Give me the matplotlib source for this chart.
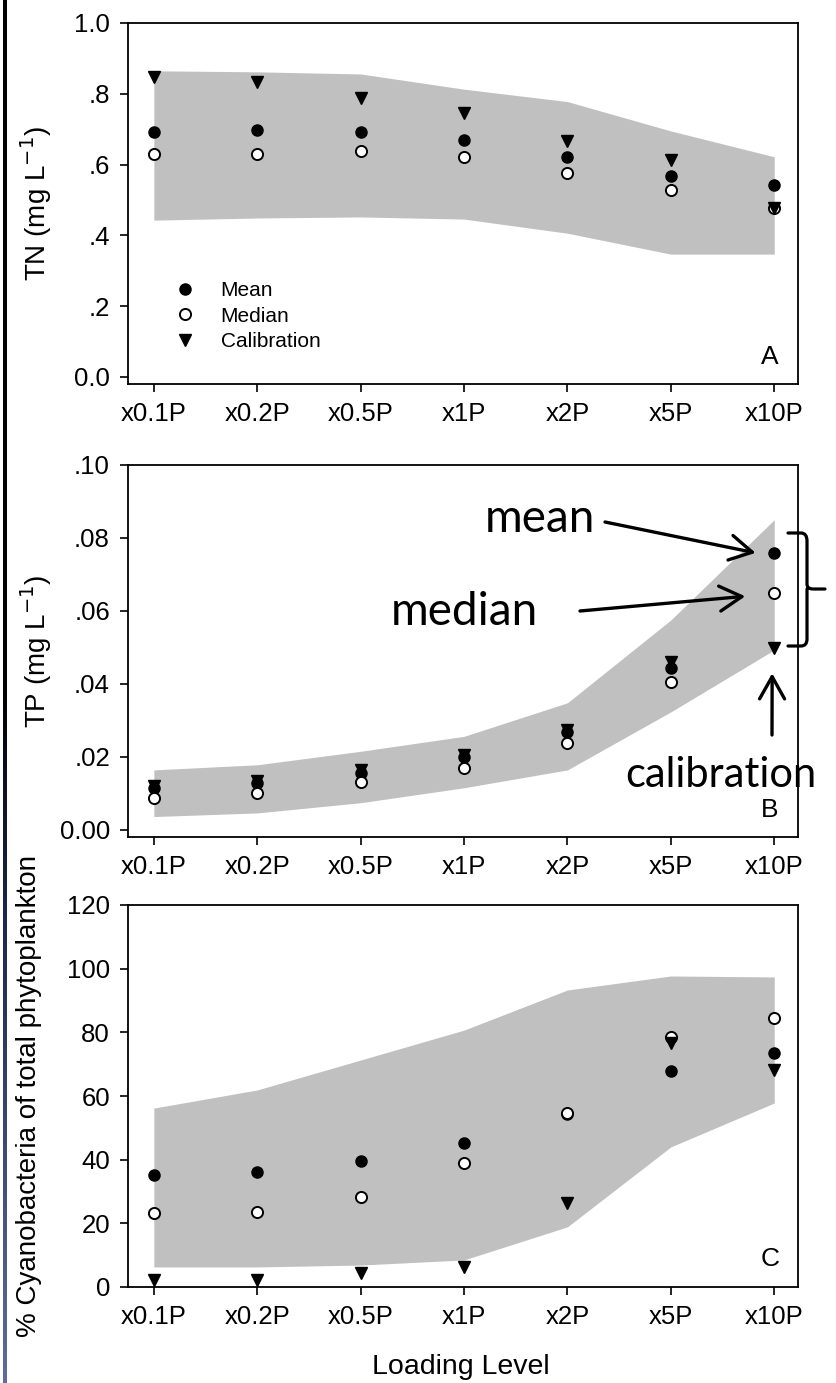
import matplotlib.pyplot as plt
import numpy as np
from matplotlib.path import Path
from matplotlib.patches import PathPatch
from matplotlib.colors import LinearSegmentedColormap

plt.rcParams["font.family"] = ["Liberation Sans", "DejaVu Sans"]

levels = ["x0.1P", "x0.2P", "x0.5P", "x1P", "x2P", "x5P", "x10P"]

# total nitrogen (mg/L)
tn_hi = [0.865, 0.862, 0.856, 0.813, 0.778, 0.695, 0.622]
tn_lo = [0.443, 0.449, 0.452, 0.446, 0.406, 0.347, 0.347]
tn_mean = [0.693, 0.698, 0.693, 0.670, 0.621, 0.568, 0.542]
tn_median = [0.630, 0.630, 0.639, 0.622, 0.576, 0.528, 0.477]
tn_calib = [0.848, 0.832, 0.788, 0.745, 0.668, 0.613, 0.478]

# total phosphorus (mg/L)
tp_hi = [0.0164, 0.0178, 0.0215, 0.0256, 0.0348, 0.0575, 0.0850]
tp_lo = [0.0036, 0.0046, 0.0074, 0.0115, 0.0164, 0.0323, 0.0493]
tp_mean = [0.0115, 0.0128, 0.0156, 0.0200, 0.0269, 0.0443, 0.0759]
tp_median = [0.0088, 0.0101, 0.0131, 0.0170, 0.0238, 0.0405, 0.0650]
tp_calib = [0.0120, 0.0134, 0.0164, 0.0205, 0.0274, 0.0460, 0.0499]

# cyanobacteria share of phytoplankton (%)
cy_hi = [56.2, 61.9, 71.3, 80.7, 93.3, 97.7, 97.4]
cy_lo = [6.3, 6.3, 6.9, 8.5, 18.9, 44.0, 57.8]
cy_mean = [35.2, 36.1, 39.6, 45.2, 54.5, 67.9, 73.5]
cy_median = [23.2, 23.7, 28.4, 38.9, 54.7, 78.6, 84.5]
cy_calib = [2.2, 2.2, 4.4, 6.3, 26.4, 76.6, 68.2]

W, H = 836, 1383
fig = plt.figure(figsize=(W / 100, H / 100), dpi=100)
fig.patch.set_facecolor("white")


def fx(x):
    return x / W


def fy(y):
    return 1 - y / H


def px_axes(left, top, right, bottom):
    return fig.add_axes([fx(left), fy(bottom), (right - left) / W, (bottom - top) / H])


x = np.arange(len(levels))


def draw_panel(ax, lo, hi, mean, median, calib, ylim, yticks, yticklabels,
               ylabel, letter, label_x):
    ax.fill_between(x, lo, hi, color="#c0c0c0", linewidth=0, zorder=1)
    ax.plot(x, mean, "o", color="black", ms=8, zorder=3, label="Mean")
    ax.plot(x, median, "o", mfc="white", mec="black", mew=1.4, ms=8,
            zorder=4, label="Median")
    ax.plot(x, calib, "v", color="black", ms=9, zorder=5, label="Calibration")

    ax.set_xlim(-0.25, 6.23)
    ax.set_ylim(*ylim)
    ax.set_xticks(x)
    ax.set_xticklabels(levels)
    ax.set_yticks(yticks)
    ax.set_yticklabels(yticklabels)
    ax.tick_params(direction="out", length=6, width=1.2, labelsize=18.5, pad=7)
    for s in ax.spines.values():
        s.set_linewidth(1.3)
        s.set_color("black")

    ax.set_ylabel(ylabel, fontsize=20, va="center")
    ax.yaxis.set_label_coords(label_x, 0.5)
    ax.text(0.958, 0.055, letter, transform=ax.transAxes, ha="center",
            va="baseline", fontsize=19)


ax_a = px_axes(128, 23, 798, 384)
draw_panel(ax_a, tn_lo, tn_hi, tn_mean, tn_median, tn_calib, (-0.02, 1.0),
           [0, 0.2, 0.4, 0.6, 0.8, 1.0], ["0.0", ".2", ".4", ".6", ".8", "1.0"],
           "TN (mg L$^{-1}$)", "A", -0.137)
ax_a.legend(loc="upper left", bbox_to_anchor=(0.07, 0.285), frameon=False,
            fontsize=15, handletextpad=1.2, labelspacing=0.32,
            borderaxespad=0, borderpad=0, handlelength=1.0)

ax_b = px_axes(128, 465, 798, 837)
draw_panel(ax_b, tp_lo, tp_hi, tp_mean, tp_median, tp_calib, (-0.002, 0.1),
           [0, 0.02, 0.04, 0.06, 0.08, 0.10],
           ["0.00", ".02", ".04", ".06", ".08", ".10"],
           "TP (mg L$^{-1}$)", "B", -0.137)

ax_c = px_axes(128, 905, 798, 1287)
draw_panel(ax_c, cy_lo, cy_hi, cy_mean, cy_median, cy_calib, (0, 120),
           np.arange(0, 121, 20), [str(v) for v in range(0, 121, 20)],
           "% Cyanobacteria of total phytoplankton", "C", -0.148)

fig.text(fx(461), fy(1367), "Loading Level", ha="center", va="center",
         fontsize=20.5)

# callouts for the x10P phosphorus points
note_font = dict(family=["Lato", "DejaVu Sans"], color="black")
fig.text(fx(485), fy(532), "mean", va="baseline", ha="left", fontsize=33,
         **note_font)
fig.text(fx(391), fy(625), "median", va="baseline", ha="left", fontsize=33,
         **note_font)
fig.text(fx(625), fy(787), "calibration", va="baseline", ha="left",
         fontsize=30, zorder=10, **note_font)

arrow = dict(arrowstyle="->,head_length=0.8,head_width=0.45", lw=2.4,
             color="black", shrinkA=0, shrinkB=0, mutation_scale=20)
ax_b.annotate("", xy=(6 - 0.18, tp_mean[6]), xytext=(fx(605), fy(522)),
              textcoords="figure fraction", arrowprops=arrow,
              annotation_clip=False)
ax_b.annotate("", xy=(6 - 0.28, tp_median[6] - 0.001),
              xytext=(fx(580), fy(611)), textcoords="figure fraction",
              arrowprops=arrow, annotation_clip=False)
ax_b.annotate("", xy=(6 - 0.02, tp_calib[6] - 0.007),
              xytext=(fx(772), fy(735)), textcoords="figure fraction",
              arrowprops=arrow, annotation_clip=False)

# brace grouping the three x10P estimates
brace_px = [(788, 533), (801, 533), (807, 533), (807, 541), (807, 584),
            (807, 589), (813, 589), (825, 589), (807, 589), (807, 594),
            (807, 639), (807, 646), (801, 646), (788, 646)]
codes = [Path.MOVETO, Path.LINETO, Path.CURVE3, Path.CURVE3, Path.LINETO,
         Path.CURVE3, Path.CURVE3, Path.LINETO, Path.MOVETO, Path.LINETO,
         Path.LINETO, Path.CURVE3, Path.CURVE3, Path.LINETO]
brace = Path([(fx(a), fy(b)) for a, b in brace_px], codes)
fig.add_artist(PathPatch(brace, transform=fig.transFigure, fill=False,
                         lw=2.3, edgecolor="black", capstyle="round"))

# dark edge strip along the left side
strip = fig.add_axes([fx(2.5), 0, 4 / W, 1])
strip.axis("off")
cmap = LinearSegmentedColormap.from_list(
    "edge", [(0, "#000000"), (0.5, "#000000"), (0.65, "#1c2446"), (1, "#5d6e9c")])
strip.imshow(np.linspace(0, 1, 256)[:, None], aspect="auto", cmap=cmap,
             extent=(0, 1, 1, 0))

fig.savefig("out.png", dpi=100)
